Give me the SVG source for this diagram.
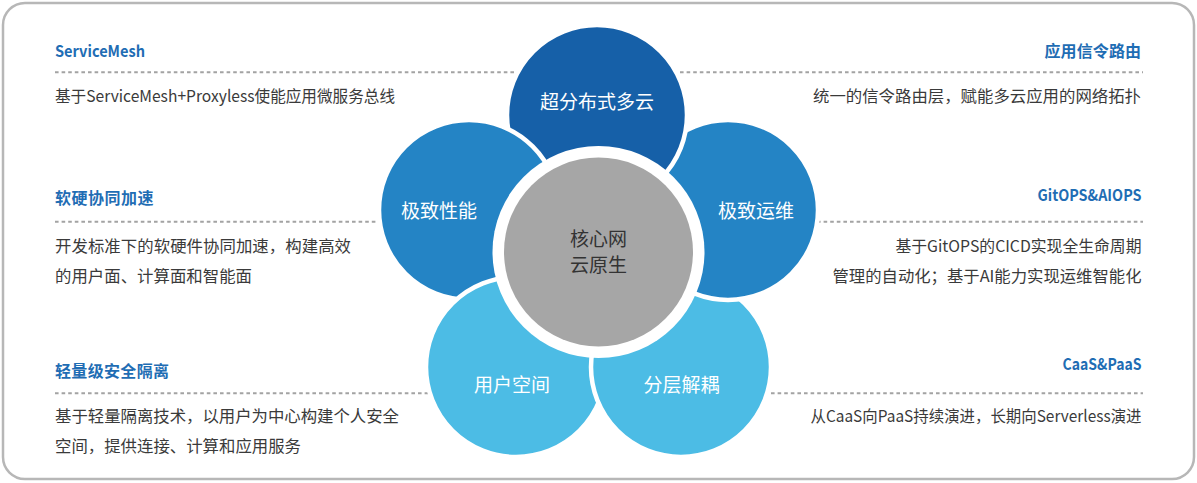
<svg xmlns="http://www.w3.org/2000/svg" xmlns:xlink="http://www.w3.org/1999/xlink" width="1197" height="483" viewBox="0 0 1197 483">
<style>
.frame{fill:#fff;stroke:#b7b7b7;stroke-width:2.5}
.dash{stroke:#a3a3a3;stroke-width:2;stroke-dasharray:3.6 3;fill:none}
.head{font-family:"Noto Sans CJK SC","Noto Sans",sans-serif;font-size:16px;font-weight:bold;fill:#1f6db4}
.desc{font-family:"Noto Sans CJK SC","Noto Sans",sans-serif;font-size:16.4px;fill:#3a3a3a}
.r{text-anchor:end}
.pet{stroke:#fff;stroke-width:4.5}
.dark{fill:#1660a8}
.mid{fill:#2484c5}
.light{fill:#4cbce5}
.lbl{font-family:"Noto Sans CJK SC","Noto Sans",sans-serif;font-size:19px;fill:#fff;text-anchor:middle;dominant-baseline:central}
.core{font-family:"Noto Sans CJK SC","Noto Sans",sans-serif;font-size:19px;fill:#333;text-anchor:middle;dominant-baseline:central}
</style>
<defs>
<clipPath id="clipLT"><rect x="370" y="95" width="200" height="80"/></clipPath>
</defs>
<rect class="frame" x="3" y="3" width="1191" height="476" rx="22" ry="22"/>

<g id="connectors">
<line class="dash" x1="55" y1="72.3" x2="515" y2="72.3"/>
<line class="dash" x1="680" y1="72.3" x2="1143" y2="72.3"/>
<line class="dash" x1="55" y1="221.7" x2="377" y2="221.7"/>
<line class="dash" x1="817" y1="221.7" x2="1143" y2="221.7"/>
<line class="dash" x1="55" y1="393.3" x2="430" y2="393.3"/>
<line class="dash" x1="771" y1="393.3" x2="1143" y2="393.3"/>
</g>

<g id="text-servicemesh">
<text class="head" x="55" y="57" textLength="90" lengthAdjust="spacingAndGlyphs">ServiceMesh</text>
<text class="desc" x="55" y="101.5" textLength="340" lengthAdjust="spacingAndGlyphs">基于ServiceMesh+Proxyless使能应用微服务总线</text>
</g>
<g id="text-accel">
<text class="head" x="55" y="203.5" textLength="98.5">软硬协同加速</text>
<text class="desc" x="55" y="251.5" textLength="296">开发标准下的软硬件协同加速，构建高效</text>
<text class="desc" x="55" y="281.5" textLength="197">的用户面、计算面和智能面</text>
</g>
<g id="text-isolation">
<text class="head" x="55" y="376.5" textLength="114">轻量级安全隔离</text>
<text class="desc" x="55" y="421.5" textLength="344">基于轻量隔离技术，以用户为中心构建个人安全</text>
<text class="desc" x="55" y="451.5" textLength="246">空间，提供连接、计算和应用服务</text>
</g>
<g id="text-routing">
<text class="head r" x="1141" y="57" textLength="96.5">应用信令路由</text>
<text class="desc r" x="1141" y="101.5" textLength="328">统一的信令路由层，赋能多云应用的网络拓扑</text>
</g>
<g id="text-gitops">
<text class="head r" x="1141.5" y="201" textLength="104" lengthAdjust="spacingAndGlyphs">GitOPS&amp;AIOPS</text>
<text class="desc r" x="1141.5" y="251.5" textLength="246" lengthAdjust="spacingAndGlyphs">基于GitOPS的CICD实现全生命周期</text>
<text class="desc r" x="1141.5" y="281.5" textLength="309" lengthAdjust="spacingAndGlyphs">管理的自动化；基于AI能力实现运维智能化</text>
</g>
<g id="text-caas">
<text class="head r" x="1141.5" y="369.5" textLength="79" lengthAdjust="spacingAndGlyphs">CaaS&amp;PaaS</text>
<text class="desc r" x="1141.5" y="421.5" textLength="331" lengthAdjust="spacingAndGlyphs">从CaaS向PaaS持续演进，长期向Serverless演进</text>
</g>

<g id="node-performance">
<circle id="c-left" class="pet mid" cx="469" cy="210" r="90"/>
</g>
<g id="node-userspace">
<circle class="pet light" cx="516" cy="367" r="90"/>
<text class="lbl" x="512" y="383.5">用户空间</text>
</g>
<g id="node-decouple">
<circle class="pet light" cx="681" cy="367" r="90"/>
<text class="lbl" x="681.5" y="383.5">分层解耦</text>
</g>
<g id="node-ops">
<circle class="pet mid" cx="728" cy="210" r="90"/>
<text class="lbl" x="756" y="209.5">极致运维</text>
</g>
<g id="node-multicloud">
<circle class="pet dark" cx="597" cy="115" r="90"/>
<text class="lbl" x="597" y="100">超分布式多云</text>
</g>
<g id="node-performance-overlap">
<use xlink:href="#c-left" clip-path="url(#clipLT)"/>
<text class="lbl" x="439" y="209.5">极致性能</text>
</g>
<g id="node-core">
<circle cx="598.5" cy="252" r="106" fill="#fff"/>
<circle cx="598.5" cy="252" r="94.5" fill="#a6a6a6"/>
<text class="core" x="598.5" y="237.5">核心网</text>
<text class="core" x="598.5" y="263">云原生</text>
</g>
</svg>
